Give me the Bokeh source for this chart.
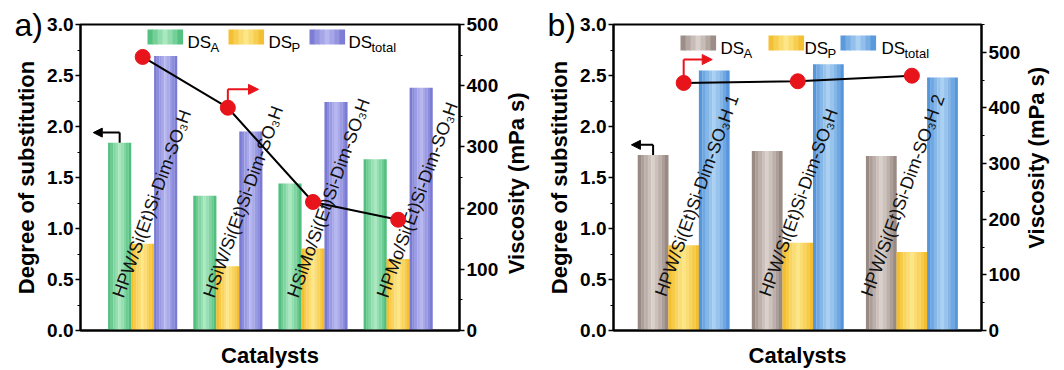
import math
from bokeh.plotting import figure
from bokeh.models import (Range1d, LinearAxis, SingleIntervalTicker, FixedTicker,
                          NumeralTickFormatter, PrintfTickFormatter, Label, BoxAnnotation,
                          Arrow, NormalHead)
from bokeh.layouts import row
from bokeh.embed import file_html
from bokeh.resources import INLINE
from bokeh.core.properties import value

FONT = "Liberation Sans"

# ---------------- data: panel a ----------------
cats_a = ["HPW/Si(Et)Si-Dim-SO\u2083H", "HSiW/Si(Et)Si-Dim-SO\u2083H",
          "HSiMo/Si(Et)Si-Dim-SO\u2083H", "HPMo/Si(Et)Si-Dim-SO\u2083H"]
dsA_a = [1.84, 1.32, 1.44, 1.68]
dsP_a = [0.85, 0.63, 0.805, 0.70]
dsT_a = [2.69, 1.95, 2.24, 2.38]
visc_a = [447, 364, 210, 181]

# ---------------- data: panel b ----------------
cats_b = ["HPW/Si(Et)Si-Dim-SO\u2083H 1", "HPW/Si(Et)Si-Dim-SO\u2083H",
          "HPW/Si(Et)Si-Dim-SO\u2083H 2"]
dsA_b = [1.72, 1.76, 1.71]
dsP_b = [0.835, 0.86, 0.77]
dsT_b = [2.55, 2.61, 2.48]
visc_b = [445, 448, 458]

legend_subs = ["A", "P", "total"]
visc_title = "Viscosity (mPa s)"

# ---------------- styles ----------------
GREEN = ((62, 182, 112), (170, 232, 192))
YELLOW = ((242, 182, 28), (253, 230, 135))
PURPLE = ((110, 110, 206), (182, 182, 240))
BROWN = ((140, 124, 117), (218, 208, 203))
BLUE = ((68, 138, 214), (170, 208, 242))
RED = "#e8141c"


def mix(c1, c2, t):
    return "#%02x%02x%02x" % tuple(int(round(a + (b - a) * t)) for a, b in zip(c1, c2))


def strip_colors(pal, n):
    out = []
    for k in range(n):
        u = (k + 0.5) / n
        t = (1 - abs(2 * u - 1)) ** 0.8
        out.append(mix(pal[0], pal[1], t))
    return out


def gradient_bars(p, xs, tops, width, pal, n=9):
    cols = strip_colors(pal, n)
    for k in range(n):
        off = -width / 2 + (k + 0.5) * width / n
        p.vbar(x=[x + off for x in xs], top=tops, bottom=0, width=width / n * 1.06,
               fill_color=cols[k], line_color=None)


def legend_swatch(p, left, right, bottom, top, pal, n=7):
    cols = strip_colors(pal, n)
    w = (right - left) / n
    for k in range(n):
        p.add_layout(BoxAnnotation(left=left + k * w, right=left + (k + 1) * w + 0.6,
                                   bottom=bottom, top=top,
                                   left_units="screen", right_units="screen",
                                   bottom_units="screen", top_units="screen",
                                   fill_color=cols[k], fill_alpha=1.0, line_color=None,
                                   level="overlay"))


def slabel(p, x, y, text, size, **kw):
    p.add_layout(Label(x=x, y=y, x_units="screen", y_units="screen", text=text,
                       text_font=FONT, text_font_size=size, text_color="black", **kw))


def style_axis(a):
    a.axis_line_width = 2
    a.axis_line_color = "black"
    a.major_tick_out = 5
    a.major_tick_in = 0
    a.minor_tick_out = 3
    a.minor_tick_in = 0
    a.major_tick_line_width = 1.5
    a.minor_tick_line_width = 1.2
    a.major_label_standoff = 2
    a.major_label_text_font = FONT
    a.major_label_text_font_size = "19px"
    a.major_label_text_font_style = "bold"
    a.major_label_text_color = "black"
    a.axis_label_text_font = FONT
    a.axis_label_text_font_size = "22px"
    a.axis_label_text_font_style = "bold"
    a.axis_label_text_color = "black"


def make_panel(tag, cats, dsA, dsP, dsT, visc, visc_max, pals, xr, bw,
               width, mbl, mbr, vlab_start, vlab_standoff,
               label_dx, label_y, leg_x, leg_tx, leg_y,
               black_dx, red_dv, red_dx):
    n = len(cats)
    xs = [i + 1 for i in range(n)]
    p = figure(width=width, height=370, x_range=Range1d(*xr), y_range=Range1d(0, 3.0),
               output_backend="svg", toolbar_location=None,
               min_border_left=mbl, min_border_right=mbr, min_border_top=24,
               min_border_bottom=38, background_fill_color="white",
               border_fill_color="white")
    p.grid.visible = False
    p.outline_line_color = "black"
    p.outline_line_width = 2
    p.extra_y_ranges = {"visc": Range1d(0, visc_max)}

    # panel tag as title
    p.title.text = tag
    p.title.align = "left"
    p.title.offset = -66
    p.title.text_font = FONT
    p.title.text_font_size = "32px"
    p.title.text_font_style = "normal"
    p.title.text_color = "black"
    try:
        p.title.standoff = -37
    except Exception:
        p.title.standoff = 0

    # left axis
    ax = p.yaxis[0]
    ax.ticker = SingleIntervalTicker(interval=0.5, num_minor_ticks=2)
    ax.formatter = NumeralTickFormatter(format="0.0")
    ax.axis_label = "Degree of substitution"
    style_axis(ax)
    ax.axis_label_standoff = 5

    # right axis (ticks and numbers)
    rax = LinearAxis(y_range_name="visc",
                     ticker=SingleIntervalTicker(interval=100, num_minor_ticks=2))
    style_axis(rax)
    rax.axis_label_standoff = 0
    p.add_layout(rax, "right")

    # right axis title, reading bottom-to-top (drawn as a rotated axis label text)
    tax = LinearAxis(y_range_name="visc", ticker=FixedTicker(ticks=[vlab_start], minor_ticks=[]),
                     formatter=PrintfTickFormatter(format=visc_title))
    style_axis(tax)
    tax.axis_line_color = None
    tax.major_tick_out = 0
    tax.minor_tick_out = 0
    tax.major_tick_line_color = None
    tax.major_label_standoff = vlab_standoff
    tax.major_label_text_font_size = "22px"
    tax.major_label_orientation = math.pi / 2
    p.add_layout(tax, "right")

    # bottom axis
    bx = p.xaxis[0]
    bx.ticker = FixedTicker(ticks=[])
    bx.axis_line_width = 2
    bx.axis_line_color = "black"
    bx.major_tick_out = 0
    bx.major_tick_in = 0
    bx.major_label_standoff = 0
    bx.axis_label = "Catalysts"
    bx.axis_label_text_font = FONT
    bx.axis_label_text_font_size = "22px"
    bx.axis_label_text_font_style = "bold"
    bx.axis_label_text_color = "black"
    bx.axis_label_standoff = 12

    # bars
    for j, (vals, pal) in enumerate(zip((dsA, dsP, dsT), pals)):
        gradient_bars(p, [x + (j - 1) * bw for x in xs], vals, bw, pal)

    # category labels
    p.text(x=[x + d for x, d in zip(xs, label_dx)], y=[label_y] * n, text=cats,
           angle=math.radians(70), text_align="left", text_baseline="middle",
           text_font=value(FONT), text_font_size="18px", text_color="#111111")

    # viscosity line
    p.line(xs, visc, y_range_name="visc", line_color="black", line_width=2)
    p.scatter(xs, visc, y_range_name="visc", size=15, fill_color=RED, line_color=RED)

    # black arrow (DS axis)
    xa = xs[0] - bw
    p.segment(x0=[xa], y0=[dsA[0]], x1=[xa], y1=[dsA[0] + 0.1], line_color="black", line_width=2)
    p.add_layout(Arrow(x_start=xa, y_start=dsA[0] + 0.1, x_end=xa + black_dx, y_end=dsA[0] + 0.1,
                       line_color="black", line_width=2,
                       end=NormalHead(size=9, fill_color="black", line_color="black")))
    # red arrow (viscosity axis)
    k = 1 if tag == "a)" else 0
    xr0 = xs[k]
    v0 = visc[k]
    p.segment(x0=[xr0], y0=[v0], x1=[xr0], y1=[v0 + red_dv], y_range_name="visc",
              line_color=RED, line_width=2)
    yy = (v0 + red_dv) * 3.0 / visc_max
    p.add_layout(Arrow(x_start=xr0, y_start=yy, x_end=xr0 + red_dx, y_end=yy,
                       line_color=RED, line_width=2,
                       end=NormalHead(size=10, fill_color=RED, line_color=RED)))

    # legend
    for i, pal in enumerate(pals):
        legend_swatch(p, leg_x[i], leg_x[i] + 35, leg_y, leg_y + 15, pal)
        slabel(p, leg_tx[i], leg_y + 2, "DS", "17px", text_baseline="alphabetic")
        slabel(p, leg_tx[i] + 23, leg_y - 3, legend_subs[i], "13px", text_baseline="alphabetic")
    return p


pa = make_panel("a)", cats_a, dsA_a, dsP_a, dsT_a, visc_a, 500, (GREEN, YELLOW, PURPLE),
                (0.27, 4.72), 0.27,
                544, 80, 79, 92, 15,
                [-0.29, -0.225, -0.24, -0.19], 0.33,
                [67, 148, 229], [107, 188, 268], 286,
                -0.31, 30, 0.36)
pb = make_panel("b)", cats_b, dsA_b, dsP_b, dsT_b, visc_b, 550, (BROWN, YELLOW, BLUE),
                (0.385, 3.61), 0.268,
                520, 68, 77, 147, 13,
                [-0.205, -0.29, -0.40], 0.34,
                [67, 155, 227], [107, 191, 268], 280,
                -0.19, 42, 0.25)

layout = row(pa, pb)
open("out.html", "w").write(file_html(layout, INLINE))
